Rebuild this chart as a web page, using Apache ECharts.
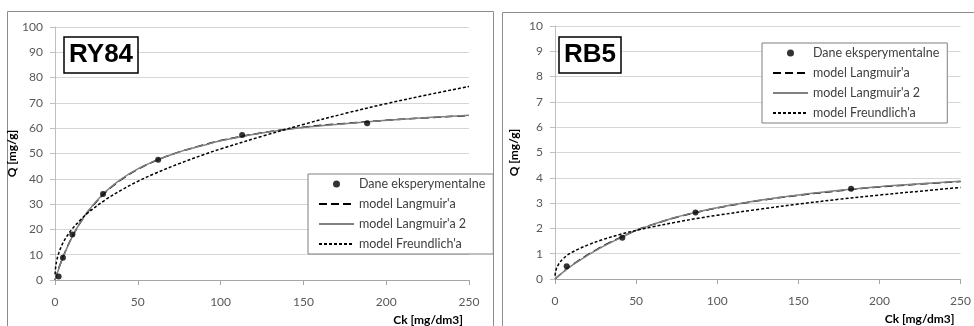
<!DOCTYPE html>
<html>
<head>
<meta charset="utf-8">
<script src="https://cdn.jsdelivr.net/npm/echarts@6/dist/echarts.min.js"></script>
<style>
html,body{margin:0;padding:0;background:#fff;}
#chart{width:974px;height:326px;}
</style>
</head>
<body>
<div id="chart"></div>
<script>
// ---- data ----
var seriesNames = ["Dane eksperymentalne", "model Langmuir'a", "model Langmuir'a 2", "model Freundlich'a"];
var panelTitles = ["RY84", "RB5"];
var xTicks = [0, 50, 100, 150, 200, 250];

// RY84 panel
var ry84ExpC = [2.2, 4.8, 10.5, 29, 62.3, 113, 188.5];
var ry84ExpQ = [1.4, 8.8, 18, 34, 47.5, 57.3, 62];
var ry84LangC = [0, 1, 2, 3, 5, 7.5, 10, 15, 20, 30, 40, 50, 60, 75, 90, 100, 125, 150, 175, 200, 225, 250];
var ry84LangQ = [0, 2.08, 4.04, 5.90, 9.34, 13.18, 16.59, 22.38, 27.11, 34.37, 39.68, 43.74, 46.93, 50.64, 53.45, 55.1, 58.2, 60.4, 61.9, 63.1, 64.14, 65.00];
var ry84Lang2Q = [0, 2.0, 3.9, 5.8, 9.2, 13.1, 16.6, 22.5, 27.3, 34.6, 39.9, 43.9, 47.0, 50.6, 53.3, 55.0, 58.1, 60.3, 61.8, 63.1, 64.2, 65.1];
var ry84FreuC = [0.05, 0.3, 1, 2, 3, 5, 7.5, 10, 15, 20, 30, 40, 50, 60, 75, 90, 100, 125, 150, 175, 200, 225, 250];
var ry84FreuQ = [2.2, 4.6, 7.6, 10.1, 12.0, 14.9, 17.6, 19.9, 23.5, 26.6, 31.5, 35.5, 39.0, 42.0, 46.0, 49.6, 51.8, 56.8, 61.5, 65.8, 69.7, 73.2, 76.5];

// RB5 panel
var rb5ExpC = [7.2, 41.5, 86.6, 182.5];
var rb5ExpQ = [0.5, 1.63, 2.63, 3.57];
var rb5LangC = [0, 7.5, 15, 20, 25, 30, 42, 50, 60, 75, 87, 100, 125, 150, 183, 200, 225, 250];
var rb5LangQ = [0, 0.41, 0.75, 0.95, 1.14, 1.32, 1.69, 1.92, 2.15, 2.44, 2.63, 2.81, 3.09, 3.31, 3.54, 3.64, 3.75, 3.85];
var rb5Lang2Q = [0, 0.40, 0.73, 0.93, 1.12, 1.30, 1.68, 1.92, 2.15, 2.45, 2.64, 2.82, 3.10, 3.32, 3.55, 3.65, 3.76, 3.86];
var rb5FreuC = [0.05, 0.5, 1, 2, 3, 5, 7.5, 10, 15, 20, 30, 40, 50, 60, 75, 90, 100, 125, 150, 175, 200, 225, 250];
var rb5FreuQ = [0.13, 0.33, 0.43, 0.56, 0.66, 0.80, 0.94, 1.04, 1.20, 1.34, 1.57, 1.76, 1.92, 2.06, 2.25, 2.42, 2.52, 2.75, 2.96, 3.15, 3.32, 3.47, 3.62];

var yMax = [100, 10];
var yStep = [10, 1];

function pairs(xs, ys) { return xs.map(function (x, i) { return [x, ys[i]]; }); }

var FONT = 'Lato';
var lineSeriesStyle = [
  { color: '#000000', width: 1.5, type: [8, 4] },
  { color: '#808080', width: 1.5, type: 'solid' },
  { color: '#000000', width: 1.5, type: [3, 2] }
];

function lineSeries(g, name, xs, ys, style, color, z) {
  return { name: name, type: 'line', xAxisIndex: g, yAxisIndex: g, showSymbol: false, symbol: 'none',
    smooth: 0.35, lineStyle: style, itemStyle: { color: color }, z: z, data: pairs(xs, ys) };
}

function panelSeries(g, expC, expQ, langC, langQ, lang2Q, freuC, freuQ) {
  return [
    { name: seriesNames[0], type: 'scatter', xAxisIndex: g, yAxisIndex: g, symbol: 'circle', symbolSize: 6,
      itemStyle: { color: '#000' }, z: 6, data: pairs(expC, expQ) },
    lineSeries(g, seriesNames[1], langC, langQ, lineSeriesStyle[0], '#000', 3),
    lineSeries(g, seriesNames[2], langC, lang2Q, lineSeriesStyle[1], '#808080', 4),
    lineSeries(g, seriesNames[3], freuC, freuQ, lineSeriesStyle[2], '#000', 5)
  ];
}

function xAxisCfg(g) {
  return {
    type: 'value', gridIndex: g, min: xTicks[0], max: xTicks[xTicks.length - 1], interval: xTicks[1] - xTicks[0],
    name: 'Ck [mg/dm3]', nameLocation: 'end', nameGap: -6,
    nameTextStyle: { fontFamily: FONT, fontWeight: 'bold', fontSize: 12, color: '#000', align: 'right', verticalAlign: 'top', padding: [34, 0, 0, 0] },
    axisLine: { show: true, lineStyle: { color: '#a6a6a6', width: 1 } },
    axisTick: { show: true, length: 5, lineStyle: { color: '#a6a6a6' } },
    splitLine: { show: false },
    axisLabel: { color: '#595959', fontFamily: FONT, fontSize: 12, margin: 16 }
  };
}
function yAxisCfg(g, gap) {
  return {
    type: 'value', gridIndex: g, min: 0, max: yMax[g], interval: yStep[g],
    name: 'Q [mg/g]', nameLocation: 'middle', nameGap: gap, nameRotate: 90,
    nameTextStyle: { fontFamily: FONT, fontWeight: 'bold', fontSize: 12, color: '#000' },
    axisLine: { show: true, lineStyle: { color: '#bfbfbf', width: 1 } },
    axisTick: { show: true, length: 5, lineStyle: { color: '#bfbfbf' } },
    splitLine: { show: true, lineStyle: { color: '#d6d6d6', width: 1 } },
    axisLabel: { color: '#595959', fontFamily: FONT, fontSize: 12, margin: 12 }
  };
}
function legendCfg(left, top) {
  return {
    left: left, top: top, orient: 'vertical',
    itemWidth: 35, itemHeight: 7, itemGap: 6,
    padding: [3, 8, 3, 10],
    borderColor: '#7f7f7f', borderWidth: 1, backgroundColor: '#ffffff',
    textStyle: { fontFamily: FONT, fontSize: 12.5, color: '#404040', lineHeight: 14 },
    data: seriesNames.map(function (n, i) {
      return i === 0 ? { name: n } : { name: n, itemStyle: { opacity: 0 } };
    }),
    z: 10
  };
}
function titleCfg(text, left, top) {
  return {
    text: text, left: left, top: top,
    padding: [5, 5, 5, 5],
    borderColor: '#000', borderWidth: 1.5, backgroundColor: '#fff',
    textStyle: { fontFamily: 'Liberation Sans', fontWeight: 'bold', fontSize: 26, color: '#000', lineHeight: 26 },
    z: 10
  };
}

var chart = echarts.init(document.getElementById('chart'), null, { renderer: 'canvas' });
var option = {
  backgroundColor: '#ffffff',
  animation: false,
  graphic: [
    { type: 'rect', z: -1, shape: { x: 7.5, y: 11.5, width: 486, height: 330 }, style: { fill: 'none', stroke: '#8c8c8c', lineWidth: 1 } },
    { type: 'rect', z: -1, shape: { x: 502.5, y: 12.5, width: 480, height: 330 }, style: { fill: 'none', stroke: '#8c8c8c', lineWidth: 1 } }
  ],
  title: [titleCfg(panelTitles[0], 64, 37), titleCfg(panelTitles[1], 559, 37)],
  legend: [legendCfg(308, 174), legendCfg(762, 43)],
  grid: [
    { left: 55, right: 505, top: 27, bottom: 46 },
    { left: 555, right: 13, top: 26, bottom: 47 }
  ],
  xAxis: [xAxisCfg(0), xAxisCfg(1)],
  yAxis: [yAxisCfg(0, 31), yAxisCfg(1, 35)],
  series: [].concat(
    panelSeries(0, ry84ExpC, ry84ExpQ, ry84LangC, ry84LangQ, ry84Lang2Q, ry84FreuC, ry84FreuQ),
    panelSeries(1, rb5ExpC, rb5ExpQ, rb5LangC, rb5LangQ, rb5Lang2Q, rb5FreuC, rb5FreuQ)
  )
};
chart.setOption(option);
</script>
</body>
</html>
